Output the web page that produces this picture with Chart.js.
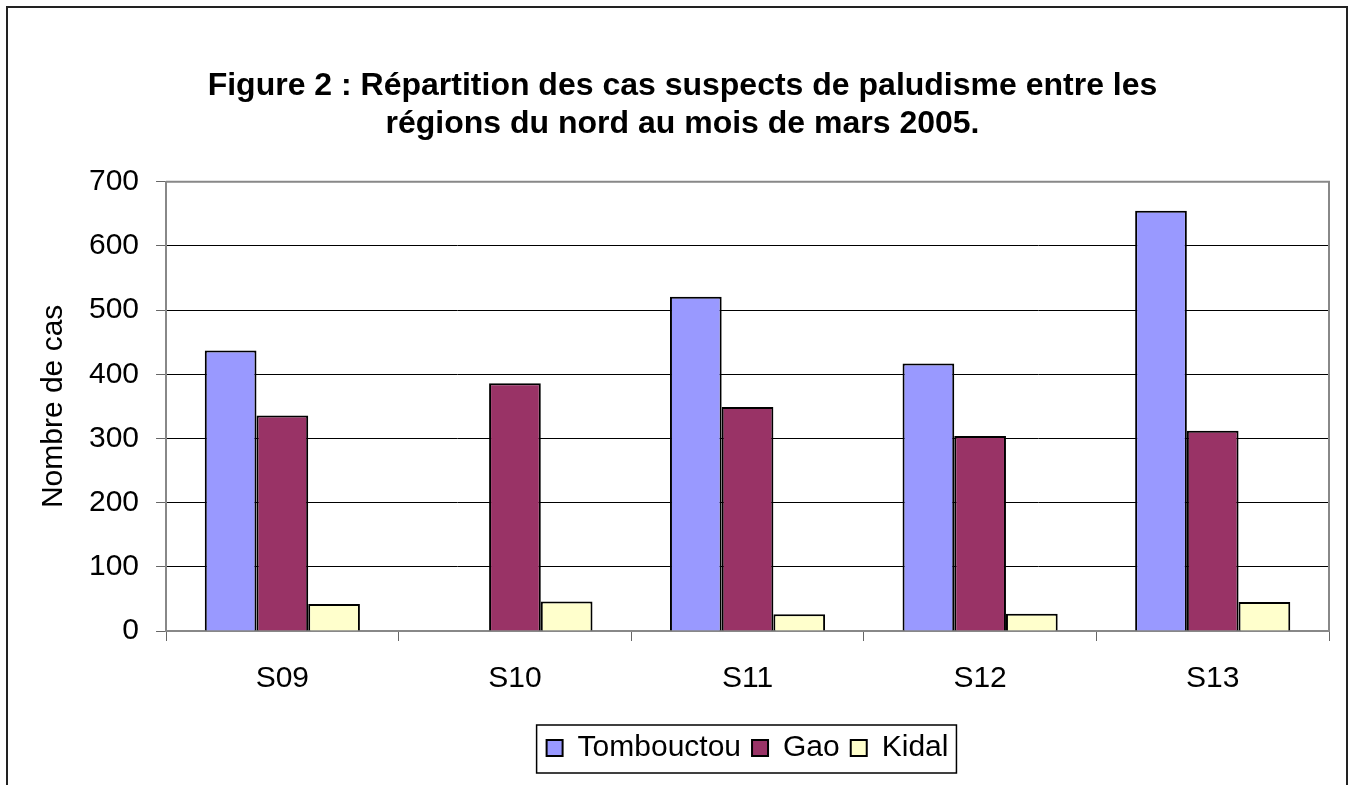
<!DOCTYPE html>
<html>
<head>
<meta charset="utf-8">
<script src="https://cdn.jsdelivr.net/npm/chart.js@4"></script>
<style>
  html, body { margin: 0; padding: 0; background: #fff; }
  #wrap { width: 1354px; height: 785px; }
</style>
</head>
<body>
<div id="wrap"><canvas id="chart" width="1354" height="785"></canvas></div>
<script>
// Semaines (catégories)
const semaines = ['S09', 'S10', 'S11', 'S12', 'S13'];

// Cas suspects par région
const tombouctou = [437, null, 521, 417, 655];
const gao = [336, 386, 349, 304, 312];
const kidal = [42, 46, 26, 27, 45];

const titre = ['Figure 2 : Répartition des cas suspects de paludisme entre les', 'régions du nord au mois de mars 2005.'];
const police = 'Arial, "Liberation Sans", sans-serif';

// Cadre extérieur + cadre de la zone de tracé
const cadres = {
    id: 'cadres',
    beforeDraw(chart) {
        const ctx = chart.ctx;
        ctx.save();
        ctx.fillStyle = '#fff';
        ctx.fillRect(0, 0, chart.width, chart.height);
        ctx.strokeStyle = '#222';
        ctx.lineWidth = 2;
        ctx.strokeRect(7, 7, chart.width - 14, chart.height + 20);
        ctx.restore();
    },
    afterDatasetsDraw(chart) {
        const a = chart.chartArea;
        const ctx = chart.ctx;
        ctx.save();
        ctx.strokeStyle = '#888';
        ctx.lineWidth = 2;
        ctx.beginPath();
        ctx.moveTo(a.left, a.top);
        ctx.lineTo(a.right, a.top);
        ctx.lineTo(a.right, a.bottom);
        ctx.stroke();
        ctx.restore();
    },
    afterDraw(chart) {
        // bordure autour de la légende
        const lg = chart.legend;
        if (!lg || !lg.legendHitBoxes.length) return;
        const boxes = lg.legendHitBoxes;
        const x0 = boxes[0].left - 10;
        const last = boxes[boxes.length - 1];
        const x1 = last.left + last.width + 8;
        const y0 = boxes[0].top - 8;
        const y1 = boxes[0].top + boxes[0].height + 10;
        const ctx = chart.ctx;
        ctx.save();
        ctx.strokeStyle = '#000';
        ctx.lineWidth = 1.5;
        ctx.strokeRect(x0, y0, x1 - x0, y1 - y0);
        ctx.restore();
    }
};

new Chart(document.getElementById('chart'), {
    type: 'bar',
    data: {
        labels: semaines,
        datasets: [
            { label: 'Tombouctou', data: tombouctou, backgroundColor: '#9999FF', borderColor: '#000', borderWidth: 2 },
            { label: 'Gao', data: gao, backgroundColor: '#993366', borderColor: '#000', borderWidth: 2 },
            { label: 'Kidal', data: kidal, backgroundColor: '#FFFFCC', borderColor: '#000', borderWidth: 2 }
        ]
    },
    options: {
        responsive: false,
        animation: false,
        categoryPercentage: 0.667,
        barPercentage: 1.0,
        layout: { padding: { left: 36, right: 25, top: 0, bottom: 12 } },
        plugins: {
            title: {
                display: true,
                text: titre,
                color: '#000',
                font: { family: police, size: 32, weight: 'bold', lineHeight: 1.2 },
                padding: { top: 67, bottom: 38 }
            },
            legend: {
                position: 'bottom',
                fullSize: false,
                title: { display: true, text: '', font: { size: 5, lineHeight: 1 }, padding: 0 },
                labels: {
                    color: '#000',
                    font: { family: police, size: 30 },
                    boxWidth: 16,
                    boxHeight: 16,
                    padding: 11
                }
            },
            tooltip: { enabled: false }
        },
        scales: {
            x: {
                grid: {
                    offset: true,
                    drawOnChartArea: false,
                    drawTicks: true,
                    tickLength: 10,
                    tickColor: '#666'
                },
                border: { color: '#888', width: 2 },
                ticks: { color: '#000', font: { family: police, size: 30 }, padding: 20 }
            },
            y: {
                min: 0,
                max: 700,
                ticks: { stepSize: 100, color: '#000', font: { family: police, size: 30 }, padding: 17 },
                grid: {
                    color: (c) => (c.tick && (c.tick.value === 0 || c.tick.value === 700)) ? '#888' : '#000',
                    lineWidth: 1,
                    tickLength: 10,
                    tickColor: '#666'
                },
                border: { color: '#888', width: 2 },
                title: {
                    display: true,
                    text: 'Nombre de cas',
                    color: '#000',
                    font: { family: police, size: 30 },
                    padding: { top: 0, bottom: 0 }
                }
            }
        }
    },
    plugins: [cadres]
});
</script>
</body>
</html>
